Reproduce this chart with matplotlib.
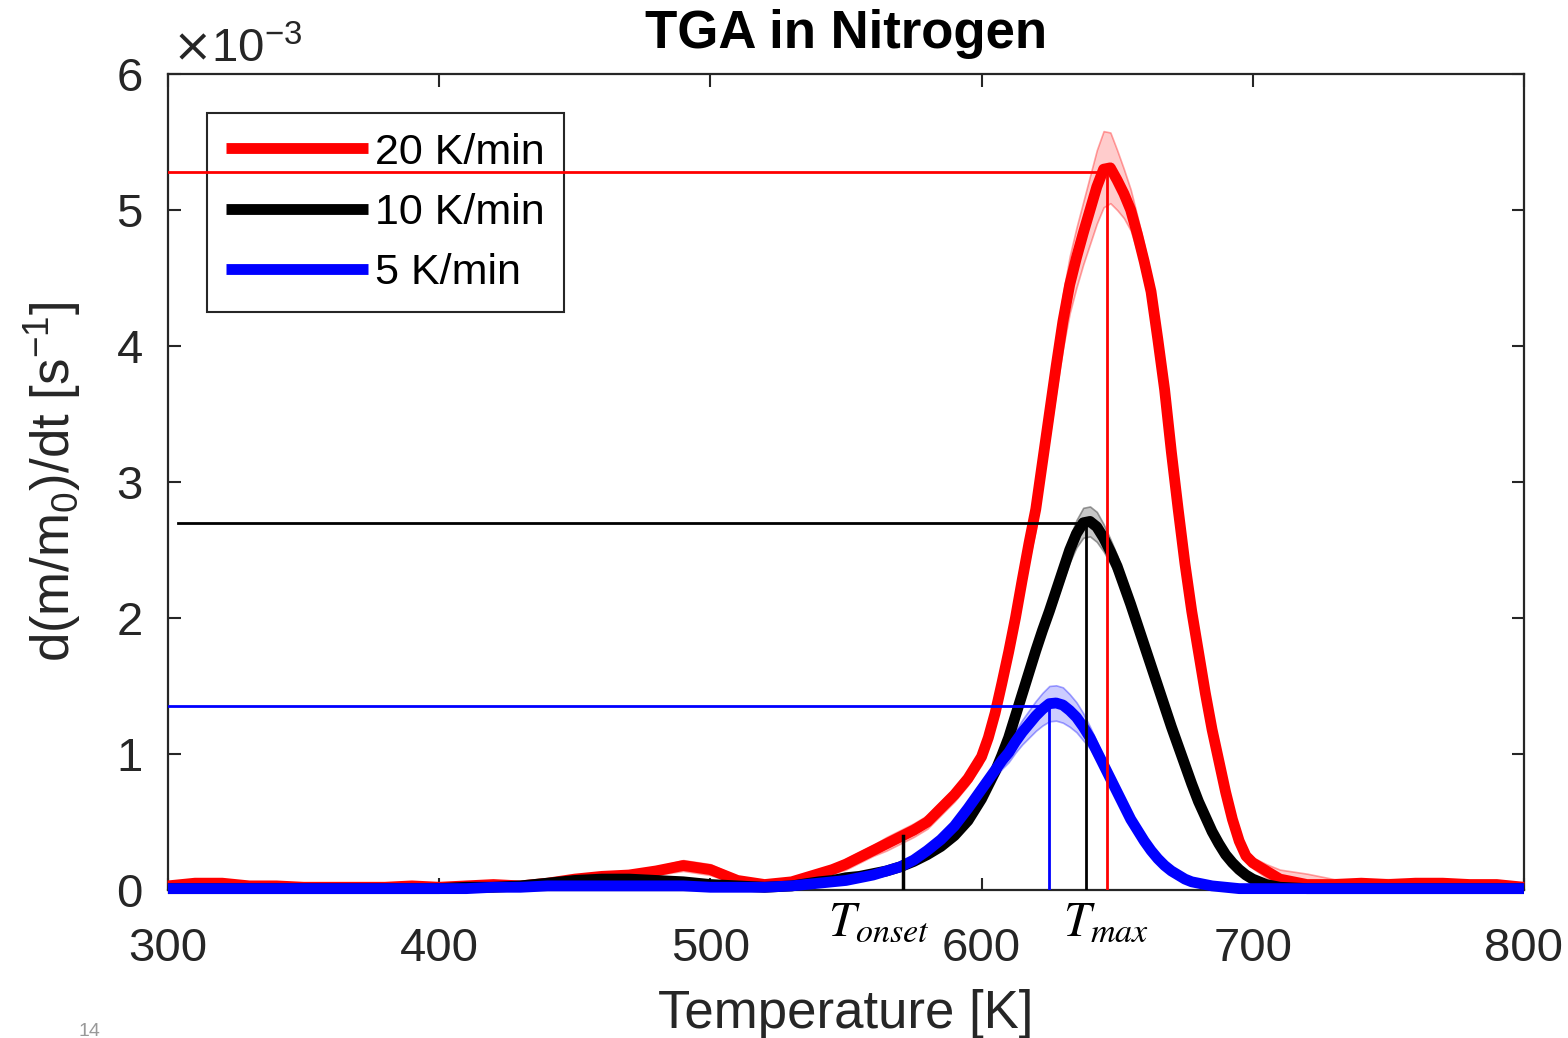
import numpy as np
import matplotlib
matplotlib.use("Agg")
import matplotlib.pyplot as plt
import matplotlib.transforms as mtransforms
from matplotlib.ticker import FuncFormatter

plt.rcParams['font.family'] = ['Liberation Sans', 'DejaVu Sans']

# Temperature grid [K] shared by all three heating rates
temperature = [300, 310, 320, 330, 340, 350, 360, 370, 380, 390, 400, 410,
               420, 430, 440, 450, 460, 470, 480, 490, 500, 510, 520, 530,
               540, 545, 550, 555, 560, 565, 570, 575, 580, 585, 590, 595,
               600, 602.5, 605, 607.5, 610, 612.5, 615, 617.5, 620, 622.5,
               625, 627.5, 630, 632.5, 635, 637.5, 640, 642.5, 645, 647.5,
               650, 652.5, 655, 657.5, 660, 662.5, 665, 667.5, 670, 672.5,
               675, 677.5, 680, 682.5, 685, 687.5, 690, 692.5, 695, 697.5,
               700,
               705, 710, 720, 730, 740, 750, 760, 770, 780, 790, 800]

# Mean mass loss rate, in units of 1e-3 1/s
rate_20 = [0.03, 0.05, 0.05, 0.03, 0.03, 0.02, 0.02, 0.02, 0.02, 0.03, 0.02, 0.03,
           0.04, 0.03, 0.05, 0.08, 0.10, 0.11, 0.14, 0.18, 0.15, 0.07, 0.04, 0.06,
           0.12, 0.15, 0.19, 0.24, 0.29, 0.34, 0.39, 0.44, 0.50, 0.60, 0.70, 0.82,
           0.98, 1.12, 1.30, 1.52, 1.75, 2.00, 2.28, 2.55, 2.80, 3.15,
           3.50, 3.85, 4.18, 4.45, 4.65, 4.83, 5.00, 5.17, 5.30, 5.31,
           5.22, 5.12, 5.00, 4.82, 4.62, 4.40, 4.05, 3.68, 3.22, 2.80,
           2.40, 2.05, 1.75, 1.45, 1.18, 0.95, 0.72, 0.52, 0.36, 0.25,
           0.20,
           0.14, 0.08, 0.04, 0.04, 0.05, 0.04, 0.05, 0.05, 0.04, 0.04, 0.02]
rate_10 = [0.01, 0.01, 0.01, 0.01, 0.01, 0.01, 0.01, 0.01, 0.01, 0.01, 0.01, 0.02,
           0.02, 0.03, 0.05, 0.07, 0.08, 0.08, 0.07, 0.06, 0.04, 0.03, 0.02, 0.03,
           0.06, 0.07, 0.09, 0.10, 0.12, 0.14, 0.17, 0.21, 0.26, 0.32, 0.40, 0.51,
           0.67, 0.77, 0.87, 0.99, 1.12, 1.28, 1.44, 1.60, 1.76, 1.91,
           2.05, 2.20, 2.35, 2.50, 2.62, 2.70, 2.71, 2.67, 2.59, 2.49,
           2.38, 2.24, 2.10, 1.95, 1.80, 1.65, 1.50, 1.35, 1.20, 1.06,
           0.92, 0.78, 0.65, 0.54, 0.43, 0.34, 0.26, 0.20, 0.15, 0.11,
           0.08,
           0.04, 0.02, 0.01, 0.01, 0.01, 0.01, 0.01, 0.01, 0.01, 0.01, 0.01]
rate_5 = [0.01, 0.01, 0.01, 0.01, 0.01, 0.01, 0.01, 0.01, 0.01, 0.01, 0.01, 0.01,
          0.02, 0.02, 0.03, 0.03, 0.03, 0.03, 0.03, 0.03, 0.02, 0.02, 0.02, 0.03,
          0.05, 0.06, 0.07, 0.09, 0.11, 0.14, 0.17, 0.22, 0.29, 0.37, 0.47, 0.60,
          0.74, 0.81, 0.88, 0.95, 1.01, 1.09, 1.16, 1.22, 1.28, 1.33,
          1.37, 1.375, 1.36, 1.32, 1.27, 1.20, 1.12, 1.02, 0.92, 0.82,
          0.72, 0.62, 0.52, 0.44, 0.36, 0.29, 0.23, 0.18, 0.14, 0.11,
          0.08, 0.06, 0.05, 0.04, 0.03, 0.025, 0.02, 0.015, 0.01, 0.01,
          0.01,
          0.01, 0.01, 0.01, 0.01, 0.01, 0.01, 0.01, 0.01, 0.01, 0.01, 0.01]

# Half-width of the scatter band between repeated runs (1e-3 1/s)
spread_20 = [0.03, 0.03, 0.03, 0.03, 0.03, 0.03, 0.03, 0.03, 0.03, 0.03, 0.03, 0.03,
             0.03, 0.03, 0.03, 0.03, 0.03, 0.03, 0.03, 0.04, 0.04, 0.03, 0.03, 0.03,
             0.03, 0.03, 0.04, 0.04, 0.04, 0.05, 0.05, 0.05, 0.05, 0.05, 0.05, 0.05,
             0.06, 0.07, 0.08, 0.09, 0.10, 0.11, 0.12, 0.13, 0.15, 0.16,
             0.18, 0.19, 0.20, 0.21, 0.22, 0.23, 0.25, 0.27, 0.28, 0.26,
             0.22, 0.18, 0.15, 0.13, 0.12, 0.11, 0.10, 0.09, 0.08, 0.08,
             0.07, 0.07, 0.06, 0.06, 0.05, 0.05, 0.05, 0.05, 0.04, 0.04,
             0.04,
             0.05, 0.07, 0.08, 0.04, 0.03, 0.04, 0.03, 0.03, 0.03, 0.03, 0.03]
spread_10 = [0.02, 0.02, 0.02, 0.02, 0.02, 0.02, 0.02, 0.02, 0.02, 0.02, 0.02, 0.02,
             0.02, 0.02, 0.02, 0.02, 0.02, 0.02, 0.02, 0.02, 0.02, 0.02, 0.02, 0.02,
             0.02, 0.02, 0.02, 0.02, 0.02, 0.02, 0.02, 0.02, 0.02, 0.02, 0.03, 0.03,
             0.04, 0.04, 0.04, 0.05, 0.05, 0.05, 0.05, 0.06, 0.06, 0.07,
             0.07, 0.08, 0.08, 0.09, 0.10, 0.11, 0.11, 0.11, 0.10, 0.09,
             0.08, 0.07, 0.06, 0.06, 0.05, 0.05, 0.05, 0.04, 0.04, 0.04,
             0.04, 0.03, 0.03, 0.03, 0.03, 0.02, 0.02, 0.02, 0.02, 0.02,
             0.02,
             0.02, 0.02, 0.02, 0.02, 0.02, 0.02, 0.02, 0.02, 0.02, 0.02, 0.02]
spread_5 = [0.02, 0.02, 0.02, 0.02, 0.02, 0.02, 0.02, 0.02, 0.02, 0.02, 0.02, 0.02,
            0.02, 0.02, 0.02, 0.02, 0.02, 0.02, 0.02, 0.02, 0.02, 0.02, 0.02, 0.02,
            0.02, 0.02, 0.02, 0.02, 0.02, 0.02, 0.02, 0.02, 0.03, 0.03, 0.04, 0.04,
            0.05, 0.05, 0.06, 0.06, 0.07, 0.08, 0.09, 0.10, 0.11, 0.12,
            0.13, 0.13, 0.13, 0.12, 0.11, 0.10, 0.08, 0.07, 0.05, 0.04,
            0.04, 0.03, 0.03, 0.03, 0.03, 0.02, 0.02, 0.02, 0.02, 0.02,
            0.02, 0.02, 0.02, 0.02, 0.02, 0.02, 0.02, 0.02, 0.02, 0.02,
            0.02,
            0.02, 0.02, 0.02, 0.02, 0.02, 0.02, 0.02, 0.02, 0.02, 0.02, 0.02]

labels = ['20 K/min', '10 K/min', '5 K/min']
colors = ['#ff0000', '#000000', '#0000ff']
band_face = [(1, 0, 0, 0.20), (0.45, 0.45, 0.45, 0.40), (0, 0, 1, 0.20)]
band_edge = [(1, 0, 0, 0.35), (0.35, 0.35, 0.35, 0.6), (0, 0, 1, 0.35)]

# Peak markers (T_max and peak rate) and the horizontal guide starts
peak_T = [646.3, 638.7, 625.0]
peak_rate = [5.28, 2.70, 1.355]
guide_start = [300.0, 303.7, 300.0]
onset_T = 571.0
onset_rate = 0.40

T = np.array(temperature)
series = [np.array(rate_20), np.array(rate_10), np.array(rate_5)]
spreads = [np.array(spread_20), np.array(spread_10), np.array(spread_5)]

fig = plt.figure(figsize=(15.68, 10.38), dpi=100)
ax = fig.add_axes([0.1071, 0.1426, 0.8648, 0.7861])

handles = []
for y, s, c, fc, ec, lab in zip(series, spreads, colors, band_face, band_edge, labels):
    ax.fill_between(T, (y - s) * 1e-3, (y + s) * 1e-3, facecolor=fc,
                    edgecolor=ec, linewidth=1.2, zorder=2)
    h, = ax.plot(T, y * 1e-3, color=c, linewidth=7.8, label=lab,
                 solid_capstyle='butt', solid_joinstyle='round',
                 clip_on=False, zorder=3)
    handles.append(h)

# guide lines to the peaks
for tp, rp, t0, c in zip(peak_T, peak_rate, guide_start, colors):
    ax.plot([t0, tp], [rp * 1e-3, rp * 1e-3], color=c, linewidth=2, zorder=6)
    ax.plot([tp, tp], [0, rp * 1e-3], color=c, linewidth=2, zorder=6)
ax.plot([onset_T, onset_T], [0, onset_rate * 1e-3], color='black',
        linewidth=2.5, zorder=6)

ax.set_xlim(300, 800)
ax.set_ylim(0, 6e-3)
ax.set_xticks([300, 400, 500, 600, 700, 800])
ax.set_yticks(np.arange(0, 7) * 1e-3)
ax.yaxis.set_major_formatter(FuncFormatter(lambda v, _: f'{v * 1e3:.0f}'))

axis_col = '#262626'
for sp in ax.spines.values():
    sp.set_color(axis_col)
    sp.set_linewidth(1.6)
ax.tick_params(direction='in', length=9, width=1.5, colors=axis_col,
               labelsize=34, top=True, right=True)
ax.tick_params(axis='x', pad=27)
ax.tick_params(axis='y', pad=18)

ax.set_title('TGA in Nitrogen', fontsize=38, fontweight='bold', pad=19)
ax.set_xlabel('Temperature [K]', fontsize=38, color=axis_col)
ax.xaxis.set_label_coords(0.5, -0.121)
ax.set_ylabel(r'd(m/m$_\mathregular{0}$)/dt [s$^\mathregular{-1}$]',
              fontsize=38, color=axis_col)
ax.yaxis.set_label_coords(-0.063, 0.5)

ax.text(0.003, 1.0 + 12 / 816, r'$\times\mathregular{10}^{\mathregular{-3}}$',
        transform=ax.transAxes, fontsize=34, color=axis_col,
        ha='left', va='baseline')

trans = mtransforms.blended_transform_factory(ax.transData, ax.transAxes)
ax.text(562, -0.013, r'$\mathit{T}_{\mathit{onset}}$', transform=trans,
        fontsize=35, math_fontfamily='stix', ha='center', va='top')
ax.text(646, -0.013, r'$\mathit{T}_{\mathit{max}}$', transform=trans,
        fontsize=35, math_fontfamily='stix', ha='center', va='top')

leg = ax.legend(handles=handles, loc='upper left',
                bbox_to_anchor=(0.0288, 0.952), borderaxespad=0,
                fontsize=31, handlelength=3.3, handletextpad=0.15,
                borderpad=0.45, labelspacing=0.47, fancybox=False,
                framealpha=1, edgecolor=axis_col)
leg.get_frame().set_linewidth(1.5)
leg.set_zorder(5)

fig.text(0.05, 2 / 1038, '14', fontsize=14, color='#999999', ha='left',
         va='baseline')

fig.savefig('out.png', dpi=100)
